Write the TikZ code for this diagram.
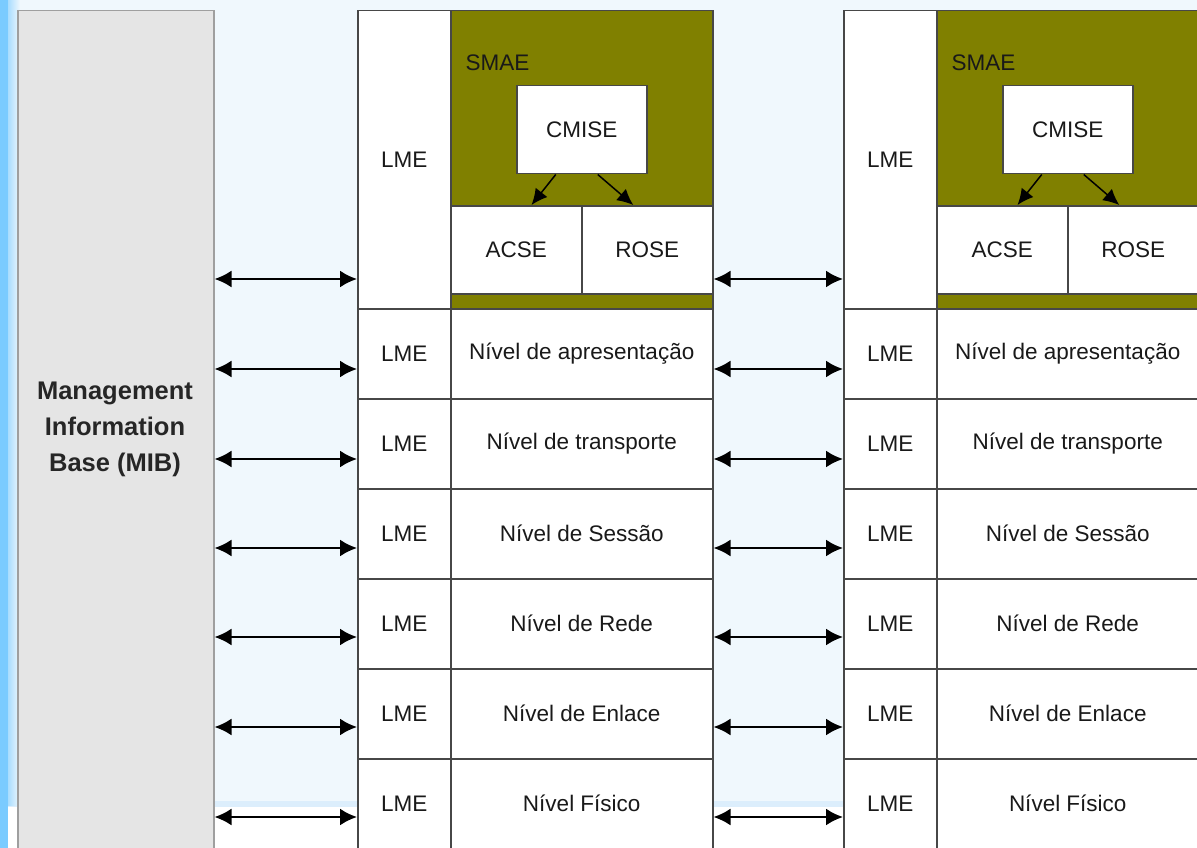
\documentclass[tikz,border=0pt]{standalone}
\usepackage{fontspec}
\setmainfont{Liberation Sans}
\usetikzlibrary{arrows.meta}
\definecolor{bgblue}{HTML}{F0F8FD}
\definecolor{bandblue}{HTML}{DCEEFC}
\definecolor{stripblue}{HTML}{7ACBFF}
\definecolor{olive}{HTML}{808000}
\definecolor{mibgray}{HTML}{E5E5E5}
\definecolor{edge}{HTML}{474747}
\tikzset{
  txt/.style={font=\fontsize{22.5}{27}\selectfont, text=black!90},
  cell/.style={draw=edge, line width=1.5pt, fill=white, inner sep=0pt, txt},
  olivebox/.style={draw=edge, line width=1.5pt, fill=olive, inner sep=0pt},
  mibbox/.style={draw=gray!75, line width=1.5pt, fill=mibgray, inner sep=0pt},
  dbl/.style={line width=2.2pt, {Latex[length=17pt,width=17pt]}-{Latex[length=17pt,width=17pt]}},
  sub/.style={line width=1.5pt, -{Latex[length=16pt,width=15pt]}},
}
\begin{document}
\begin{tikzpicture}[x=1pt,y=-1pt]
\useasboundingbox (0,0) rectangle (1197,848);
% background
\fill[bgblue] (0,0) rectangle (1197,805);
\fill[white] (0,805) rectangle (1197,848);
\fill[bandblue] (0,801) rectangle (1197,807);
\shade[left color=stripblue, right color=bgblue] (0,0) rectangle (20,805);
\fill[stripblue] (0,0) rectangle (8,848);

% MIB
\node[mibbox, minimum width=196pt, minimum height=840pt, anchor=north west] (mib) at (17,10) {};
\node[font=\bfseries\fontsize{25.5}{36}\selectfont, text=black!85, align=center] (mibt) at (115,429) {Management\\Information\\Base (MIB)};

% ---------- two protocol stacks ----------
\foreach \s/\xo in {1/357, 2/843}{
  % top tall LME
  \node[cell, minimum width=93pt, minimum height=298pt, anchor=north west] (top\s) at (\xo,10) {LME};
  % SMAE olive area
  \node[olivebox, minimum width=262pt, minimum height=298pt, anchor=north west] (smae\s) at (\xo+93,10) {};
  \node[txt, anchor=west] (smaet\s) at (\xo+105,63) {SMAE};
  \node[cell, minimum width=130pt, minimum height=88pt, anchor=north west] (cmise\s) at (\xo+159,85) {CMISE};
  \node[cell, minimum width=131pt, minimum height=88pt, anchor=north west] (acse\s) at (\xo+93,205) {ACSE};
  \node[cell, minimum width=131pt, minimum height=88pt, anchor=north west] (rose\s) at (\xo+224,205) {ROSE};
  \draw[sub] ([xshift=-26pt]cmise\s.south) -- ([xshift=-51pt]acse\s.north east);
  \draw[sub] ([xshift=16pt]cmise\s.south) -- ([xshift=-14pt]rose\s.north);
  % rows
  \foreach \r/\lab in {1/Nível de apresentação, 2/Nível de transporte, 3/Nível de Sessão, 4/Nível de Rede, 5/Nível de Enlace, 6/Nível Físico}{
    \node[cell, minimum width=93pt, minimum height=90pt, anchor=north west] (lme\s\r) at (\xo,308+90*\r-90) {LME};
    \node[cell, minimum width=262pt, minimum height=90pt, anchor=north west] (lev\s\r) at (\xo+93,308+90*\r-90) {\lab};
  }
}

% arrows MIB <-> stack 1 and stack 1 <-> stack 2
\foreach \k/\yy in {0/279, 1/369, 2/459, 3/548, 4/637, 5/727, 6/817}{
  \coordinate (a\k) at (mib.east |- 0,\yy);
  \coordinate (b\k) at (top1.west |- 0,\yy);
  \coordinate (c\k) at (smae1.east |- 0,\yy);
  \coordinate (d\k) at (top2.west |- 0,\yy);
  \draw[dbl] (a\k) -- (b\k);
  \draw[dbl] (c\k) -- (d\k);
}
\end{tikzpicture}
\end{document}
